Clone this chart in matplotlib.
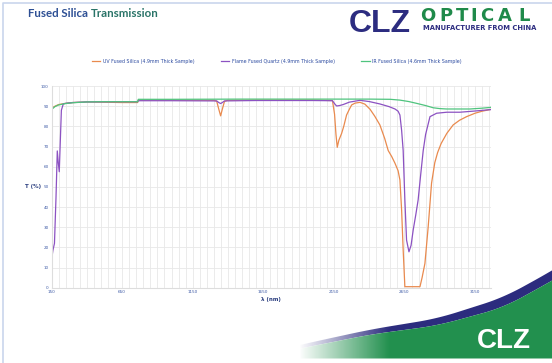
import matplotlib
matplotlib.use("Agg")
import matplotlib.pyplot as plt
from matplotlib.ticker import MultipleLocator
import numpy as np

# ---- data ----
uv_nm = [150, 175, 200, 250, 300, 400, 500, 650, 760, 765, 1000, 1300, 1320, 1335,
         1348, 1360, 1375, 1395, 1600, 2000, 2140, 2155, 2165, 2174, 2185, 2205,
         2220, 2240, 2260, 2276, 2300, 2335, 2370, 2406, 2440, 2476, 2510, 2535,
         2560, 2583, 2605, 2618, 2630, 2641, 2653, 2700, 2760, 2775, 2795, 2818,
         2842, 2865, 2885, 2910, 2950, 2995, 3040, 3090, 3150, 3200, 3261]
uv_t = [89.0, 90.0, 90.8, 91.4, 91.8, 92.1, 92.0, 91.8, 91.8, 93.0, 93.0, 92.9, 92.5, 88.5,
        85.2, 88.5, 92.3, 92.9, 93.0, 93.0, 92.8, 86.0, 76.0, 69.6, 73.0, 76.5,
        80.0, 85.6, 88.5, 90.6, 91.5, 91.9, 91.0, 88.5, 85.0, 80.7, 74.0, 68.0,
        65.0, 61.7, 58.0, 53.4, 38.5, 18.7, 0.5, 0.5, 0.5, 5.0, 12.0, 30.0,
        51.8, 62.0, 67.0, 71.5, 76.5, 80.7, 83.0, 84.8, 86.5, 87.5, 88.4]

ff_nm = [150, 160, 171, 182, 191, 198, 205, 212, 220, 234, 260, 300, 400, 650, 760,
         765, 1000, 1320, 1335, 1348, 1360, 1375, 1600, 2000, 2140, 2160, 2170,
         2190, 2216, 2260, 2335, 2400, 2476, 2540, 2583, 2605, 2618, 2630, 2641,
         2653, 2665, 2682, 2697, 2712, 2730, 2747, 2765, 2783, 2800, 2831, 2878,
         2950, 3043, 3150, 3261]
ff_t = [13.7, 18.5, 22.0, 45.0, 67.8, 62.0, 57.5, 72.0, 88.0, 91.2, 91.5, 91.8, 92.1, 92.2, 92.2,
        92.7, 92.7, 92.6, 91.8, 91.3, 91.8, 92.6, 92.8, 92.8, 92.7, 90.8, 90.1,
        90.3, 90.8, 92.0, 92.9, 92.3, 91.1, 89.8, 88.6, 87.5, 85.6, 78.0, 68.0,
        43.5, 23.6, 17.8, 21.0, 28.6, 36.0, 43.5, 56.0, 68.0, 76.0, 84.8, 86.5,
        87.0, 87.0, 87.6, 88.3]

ir_nm = [150, 175, 200, 250, 300, 400, 500, 650, 760, 765, 1000, 1500, 2000, 2400,
         2550, 2618, 2680, 2736, 2800, 2854, 2900, 2949, 3000, 3114, 3200, 3261]
ir_t = [88.3, 89.8, 90.6, 91.3, 91.7, 92.1, 92.2, 92.2, 92.2, 93.4, 93.4, 93.5, 93.5, 93.5,
        93.4, 93.0, 92.3, 91.4, 90.3, 89.2, 88.8, 88.6, 88.6, 88.6, 89.0, 89.4]

series_names = ["UV Fused Silica (4.9mm Thick Sample)",
                "Flame Fused Quartz (4.9mm Thick Sample)",
                "IR Fused Silica (4.6mm Thick Sample)"]
series_colors = ["#e98a4e", "#8c52c2", "#4fc47e"]
x_ticks = [150, 650, 1150, 1650, 2150, 2650, 3150]
y_ticks = list(range(0, 101, 10))

W, H = 552, 363
fig = plt.figure(figsize=(W / 100, H / 100), dpi=100)
fig.patch.set_facecolor("white")

def fx(px):
    return px / W

def fy(py):
    return 1 - py / H

# background layer in pixel coordinates (frame + swoosh decoration)
bg = fig.add_axes([0, 0, 1, 1], zorder=-1)
bg.set_xlim(0, W)
bg.set_ylim(H, 0)
bg.axis("off")
bg.plot([3, 3, W], [H, 3, 3], color="#c9d5ec", lw=1.2)

edge_x = [250, 310, 370, 437, 503, 552, 600]
xs = np.arange(250, 601, 1.0)
k = np.ones(41) / 41
top_edge = np.convolve(np.interp(xs, edge_x, [356, 342, 329, 318, 297, 270, 240]), k, mode="same")
low_edge = np.convolve(np.interp(xs, edge_x, [358, 346, 334, 325, 307, 280, 252]), k, mode="same")
keep = (xs >= 300) & (xs <= W)
xs, top_edge, low_edge = xs[keep], top_edge[keep], low_edge[keep]
bg.fill_between(xs, top_edge, low_edge, color="#2c2c7e", lw=0)
bg.fill_between(xs, low_edge, 358, color="#22904e", lw=0)
# fade the tail of the swoosh into the white page
fade = np.ones((2, 100, 4))
fade[..., 3] = np.linspace(1, 0, 100)
bg.imshow(fade, extent=(299, 390, 359, 300), aspect="auto", zorder=3, interpolation="bilinear")
bg.set_xlim(0, W)
bg.set_ylim(H, 0)
bg.text(477, 348, "CLZ", fontsize=20, color="white", fontweight="bold",
        family="Liberation Sans", va="baseline", ha="left", zorder=4)

# header
t1 = fig.text(fx(28), fy(17), "Fused Silica", fontsize=8.3, color="#2d4f94",
              fontweight="bold", family="Lato", va="baseline", ha="left")
fig.canvas.draw()
bb = t1.get_window_extent()
fig.text(bb.x1 / W + fx(3), fy(17), "Transmission", fontsize=8.3, color="#2a7468",
         fontweight="bold", family="Lato", va="baseline", ha="left")

fig.text(fx(349), fy(32), "CLZ", fontsize=23, color="#2c2c80", fontweight="bold",
         family="Liberation Sans", va="baseline", ha="left")
for ch, cx in zip("OPTICAL", [428, 446, 462, 474, 486.5, 505, 524]):
    fig.text(fx(cx), fy(21), ch, fontsize=13, color="#1f8a4a",
             fontweight="bold", family="DejaVu Sans", va="baseline", ha="center")
fig.text(fx(423), fy(30.5), "MANUFACTURER FROM CHINA", fontsize=4.9, color="#2c2c80",
         fontweight="bold", family="DejaVu Sans", va="baseline", ha="left")

# chart
ax = fig.add_axes([fx(51.5), fy(287.7), fx(490.7) - fx(51.5), fy(86) - fy(287.7)])
ax.set_facecolor("none")
for nm, t, c, name in zip([uv_nm, ff_nm, ir_nm], [uv_t, ff_t, ir_t], series_colors, series_names):
    ax.plot(nm, t, color=c, lw=0.9, label=name)

ax.set_xlim(150, 3261)
ax.set_ylim(0, 100)
ax.set_xticks(x_ticks)
ax.set_yticks(y_ticks)
ax.xaxis.set_minor_locator(MultipleLocator(50))
ax.grid(which="both", axis="x", color="#e8e8e8", lw=0.6)
ax.grid(which="major", axis="y", color="#e8e8e8", lw=0.6)
ax.set_axisbelow(True)
for s in ax.spines.values():
    s.set_visible(False)
ax.spines["left"].set_visible(True)
ax.spines["left"].set_color("#dddddd")
ax.spines["bottom"].set_visible(True)
ax.spines["bottom"].set_color("#dddddd")
ax.tick_params(which="both", length=0, labelsize=3, labelcolor="#3d5aa6", pad=2)

ax.set_ylabel("T (%)", fontsize=4, color="#2c3f80", fontweight="bold", rotation=0,
              labelpad=6, va="center")
ax.set_xlabel("λ (nm)", fontsize=4, color="#2c3f80", fontweight="bold", labelpad=2)

fig.legend(loc="center", bbox_to_anchor=(fx(277), fy(61)), ncol=3, frameon=False,
           fontsize=3.4, labelcolor="#2b4aa0", handlelength=1.8, handletextpad=0.6,
           columnspacing=5.5)

fig.savefig("out.png", dpi=100, facecolor="white")
